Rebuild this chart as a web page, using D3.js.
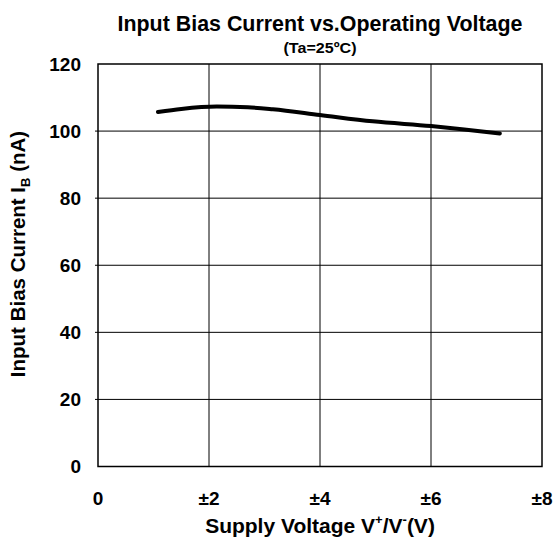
<!DOCTYPE html>
<html><head><meta charset="utf-8">
<script src="https://cdn.jsdelivr.net/npm/d3@7"></script>
<style>body{margin:0;background:#fff}svg{display:block}text{font-family:"Liberation Sans",Arial,sans-serif;font-weight:bold;fill:#000}</style>
</head><body>
<script>
const voltage = [1.08, 1.5, 2.14, 2.7, 3.15, 4.0, 4.95, 6.0, 6.6, 7.24];
const current = [105.7, 106.6, 107.3, 107.1, 106.5, 104.8, 102.9, 101.5, 100.5, 99.3];
const xTicks = [0, 2, 4, 6, 8];
const xTickLabels = ["0", "±2", "±4", "±6", "±8"];
const yTicks = [0, 20, 40, 60, 80, 100, 120];

const W = 553, H = 540;
const svg = d3.select("body").append("svg").attr("width", W).attr("height", H);
const x = d3.scaleLinear().domain([0, 8]).range([98, 542]);
const y = d3.scaleLinear().domain([0, 120]).range([466.5, 64]);

// gridlines
svg.append("g").selectAll("line").data(xTicks.slice(1, -1)).join("line")
  .attr("x1", d => x(d)).attr("x2", d => x(d)).attr("y1", y(120)).attr("y2", y(0))
  .attr("stroke", "#000").attr("stroke-width", 1);
svg.append("g").selectAll("line").data(yTicks.slice(1, -1)).join("line")
  .attr("x1", x(0) - 3).attr("x2", x(8)).attr("y1", d => y(d)).attr("y2", d => y(d))
  .attr("stroke", "#000").attr("stroke-width", 1);
// frame
svg.append("rect").attr("x", x(0)).attr("y", y(120)).attr("width", x(8) - x(0)).attr("height", y(0) - y(120))
  .attr("fill", "none").attr("stroke", "#000").attr("stroke-width", 1.5);

// y tick labels
svg.append("g").selectAll("text").data(yTicks).join("text")
  .attr("x", 81).attr("y", d => y(d)).attr("dy", "0.36em").attr("text-anchor", "end")
  .style("font-size", "19px").text(d => d);
// x tick labels
svg.append("g").selectAll("text").data(xTicks).join("text")
  .attr("x", d => x(d)).attr("y", 505).attr("text-anchor", "middle")
  .style("font-size", "19px").text((d, i) => xTickLabels[i]);

// curve
svg.append("path").datum(voltage.map((v, i) => [v, current[i]]))
  .attr("d", d3.line().x(d => x(d[0])).y(d => y(d[1])).curve(d3.curveMonotoneX))
  .attr("fill", "none").attr("stroke", "#000").attr("stroke-width", 4).attr("stroke-linecap", "round");

// titles
svg.append("text").attr("x", 320).attr("y", 31).attr("text-anchor", "middle")
  .style("font-size", "21.4px").text("Input Bias Current vs.Operating Voltage");
svg.append("text").attr("x", 320).attr("y", 53).attr("text-anchor", "middle")
  .attr("textLength", 73).attr("lengthAdjust", "spacingAndGlyphs")
  .style("font-size", "15.5px").text("(Ta=25ºC)");

// x axis title
const xt = svg.append("text").attr("x", 320).attr("y", 533).attr("text-anchor", "middle").style("font-size", "21px");
xt.append("tspan").text("Supply Voltage V");
xt.append("tspan").attr("dy", -9).style("font-size", "13px").text("+");
xt.append("tspan").attr("dy", 9).text("/V");
xt.append("tspan").attr("dy", -9).style("font-size", "13px").text("-");
xt.append("tspan").attr("dy", 9).text("(V)");

// y axis title
const yt = svg.append("text").attr("transform", "translate(25,254) rotate(-90)").attr("text-anchor", "middle").style("font-size", "20.5px");
yt.append("tspan").text("Input Bias Current I");
yt.append("tspan").attr("dy", 5).style("font-size", "13px").text("B");
yt.append("tspan").attr("dy", -5).text(" (nA)");
</script>
</body></html>
